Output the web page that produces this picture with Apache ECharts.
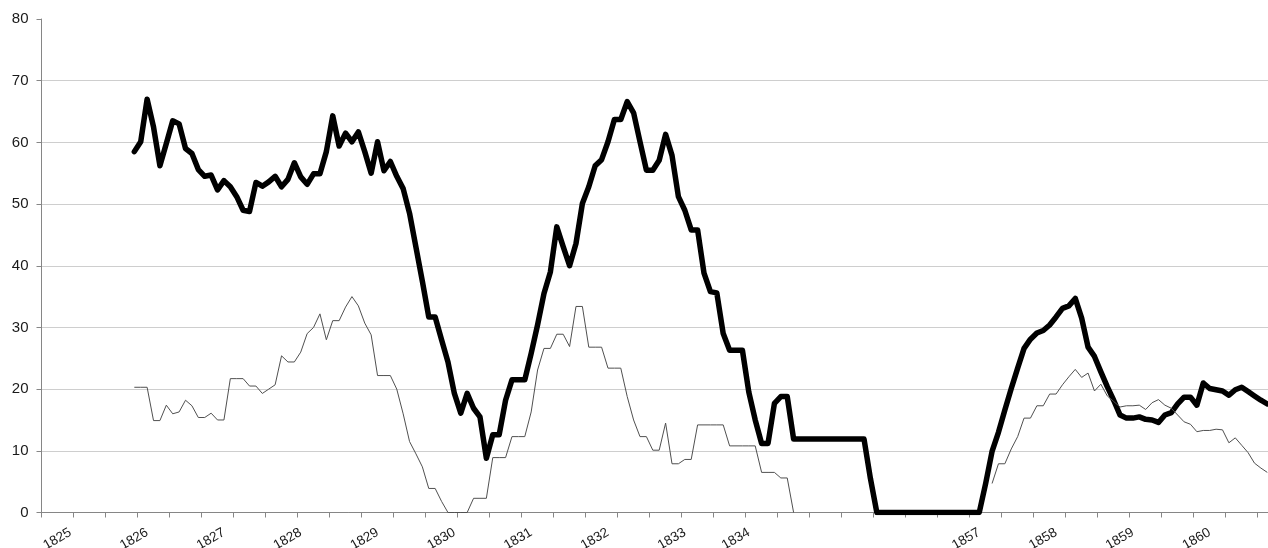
<!DOCTYPE html>
<html>
<head>
<meta charset="utf-8">
<script src="https://cdn.jsdelivr.net/npm/echarts@6/dist/echarts.min.js"></script>
<style>
  html, body { margin: 0; padding: 0; background: #ffffff; }
  #chart { width: 1268px; height: 548px; }
</style>
</head>
<body>
<div id="chart"></div>
<script>
// Monthly positions along the category axis (192 slots, gap years left unlabelled)
const slotCount = 192;

// Year labels and the slot each one sits on
const yearLabels   = ['1825', '1826', '1827', '1828', '1829', '1830', '1831', '1832', '1833', '1834', '1857', '1858', '1859', '1860'];
const yearLabelPos = [4, 16, 28, 40, 52, 64, 76, 88, 100, 110, 146, 158, 170, 182];

// Heavy series, starting at slot 14
const heavyStart = 14;
const heavyValues = [
  58.5, 60.1, 67.0, 62.5, 56.2, 59.8, 63.5, 63.0, 59.0, 58.2,
  55.6, 54.5, 54.7, 52.3, 53.8, 52.8, 51.2, 49.0, 48.8, 53.5,
  52.9, 53.6, 54.5, 52.8, 54.0, 56.7, 54.4, 53.2, 54.9, 54.9,
  58.5, 64.3, 59.4, 61.5, 60.1, 61.7, 58.5, 55.0, 60.1, 55.4,
  56.9, 54.5, 52.5, 48.5, 43.0, 37.5, 31.7, 31.7, 28.0, 24.4,
  19.3, 16.1, 19.3, 16.9, 15.5, 8.8, 12.6, 12.6, 18.2, 21.5,
  21.5, 21.5, 25.8, 30.4, 35.5, 39.0, 46.3, 43.1, 40.0, 43.6,
  50.1, 52.8, 56.2, 57.2, 60.1, 63.7, 63.7, 66.6, 64.8, 60.1,
  55.5, 55.5, 57.1, 61.3, 57.9, 51.2, 49.0, 45.8, 45.8, 38.8,
  35.8, 35.6, 29.0, 26.3, 26.3, 26.3, 19.5, 15.0, 11.2, 11.2,
  17.7, 18.8, 18.8, 11.9, 11.9, 11.9, 11.9, 11.9, 11.9, 11.9,
  11.9, 11.9, 11.9, 11.9, 11.9, 5.5, 0, 0, 0, 0,
  0, 0, 0, 0, 0, 0, 0, 0, 0, 0,
  0, 0, 0, 4.7, 9.9, 13.0, 16.6, 20.1, 23.4, 26.6,
  28.1, 29.1, 29.5, 30.4, 31.7, 33.1, 33.5, 34.7, 31.5, 26.8,
  25.3, 22.8, 20.4, 18.2, 15.8, 15.3, 15.3, 15.5, 15.1, 15.0,
  14.6, 15.8, 16.2, 17.6, 18.7, 18.7, 17.4, 21.0, 20.1, 19.9,
  19.7, 19.0, 19.9, 20.3, 19.6, 18.9, 18.2, 17.6
];

// Light series, first stretch starting at slot 14
const lightStartA = 14;
const lightValuesA = [
  20.3, 20.3, 20.3, 14.9, 14.9, 17.4, 16.0, 16.3, 18.2, 17.3,
  15.4, 15.4, 16.1, 15.0, 15.0, 21.7, 21.7, 21.7, 20.5, 20.5,
  19.3, 20.0, 20.7, 25.4, 24.4, 24.4, 26.0, 29.0, 30.0, 32.2,
  28.0, 31.1, 31.1, 33.3, 35.0, 33.5, 30.7, 28.8, 22.2, 22.2,
  22.2, 20.0, 16.0, 11.5, 9.5, 7.4, 3.9, 3.9, 1.8, 0,
  0, 0, 0, 2.3, 2.3, 2.3, 8.9, 8.9, 8.9, 12.3,
  12.3, 12.3, 16.3, 23.1, 26.6, 26.6, 28.9, 28.9, 26.9, 33.4,
  33.4, 26.8, 26.8, 26.8, 23.4, 23.4, 23.4, 18.8, 15.0, 12.3,
  12.3, 10.1, 10.1, 14.5, 7.9, 7.9, 8.6, 8.6, 14.2, 14.2,
  14.2, 14.2, 14.2, 10.8, 10.8, 10.8, 10.8, 10.8, 6.5, 6.5,
  6.5, 5.6, 5.6, 0
];

// Light series, second stretch starting at slot 148
const lightStartB = 148;
const lightValuesB = [
  4.7, 7.9, 7.9, 10.3, 12.3, 15.3, 15.3, 17.3, 17.3, 19.2,
  19.2, 20.7, 22.0, 23.2, 21.9, 22.6, 19.7, 20.8, 18.9, 18.0,
  17.1, 17.3, 17.3, 17.4, 16.7, 17.8, 18.3, 17.4, 16.9, 15.8,
  14.7, 14.3, 13.1, 13.3, 13.3, 13.5, 13.4, 11.3, 12.1, 10.9,
  9.7, 8.0, 7.2, 6.5
];

// Y axis range
const yMin = 0, yMax = 80, yStep = 10;

// Build full-length arrays with gaps (null) outside each stretch
function place(len, pieces) {
  const out = new Array(len).fill(null);
  pieces.forEach(([start, vals]) => vals.forEach((v, k) => { out[start + k] = v; }));
  return out;
}
const categories = Array.from({ length: slotCount }, (_, i) => String(i));
const heavyData = place(slotCount, [[heavyStart, heavyValues]]);
const lightData = place(slotCount, [[lightStartA, lightValuesA], [lightStartB, lightValuesB]]);
const labelAt = new Map(yearLabelPos.map((p, k) => [p, yearLabels[k]]));

const axisGray = '#868686';
const textColor = '#1a1a1a';
const fontFamily = '"Liberation Sans", Arial, sans-serif';

const chart = echarts.init(document.getElementById('chart'), null, { renderer: 'canvas' });
chart.setOption({
  animation: false,
  backgroundColor: '#ffffff',
  grid: {
    left: 41.5, right: -2.5, top: 19, bottom: 35.5,
    containLabel: false,
    outerBoundsMode: 'none'
  },
  xAxis: {
    type: 'category',
    data: categories,
    boundaryGap: true,
    axisLine: { show: true, lineStyle: { color: axisGray, width: 1 } },
    axisTick: {
      show: true,
      length: 5,
      interval: (i) => i % 5 === 0,
      lineStyle: { color: axisGray, width: 1 }
    },
    axisLabel: {
      show: true,
      interval: (i) => labelAt.has(i),
      formatter: (v, i) => labelAt.get(i) || '',
      rotate: 30,
      margin: 19,
      fontSize: 13.5,
      color: textColor,
      fontFamily: fontFamily
    },
    splitLine: { show: false }
  },
  yAxis: {
    type: 'value',
    min: yMin,
    max: yMax,
    interval: yStep,
    axisLine: { show: true, lineStyle: { color: axisGray, width: 1 } },
    axisTick: { show: true, length: 5, lineStyle: { color: axisGray, width: 1 } },
    axisLabel: { margin: 13, fontSize: 15, color: textColor, fontFamily: fontFamily },
    splitLine: {
      show: true,
      showMinLine: false,
      showMaxLine: false,
      lineStyle: { color: '#9c9c9c', width: 1, type: [1, 1] }
    }
  },
  series: [
    {
      type: 'line',
      data: heavyData,
      symbol: 'none',
      connectNulls: false,
      lineStyle: { color: '#000000', width: 5.5, cap: 'round', join: 'round' },
      z: 2
    },
    {
      type: 'line',
      data: lightData,
      symbol: 'none',
      connectNulls: false,
      lineStyle: { color: '#505050', width: 1 },
      z: 3
    }
  ]
});
</script>
</body>
</html>
